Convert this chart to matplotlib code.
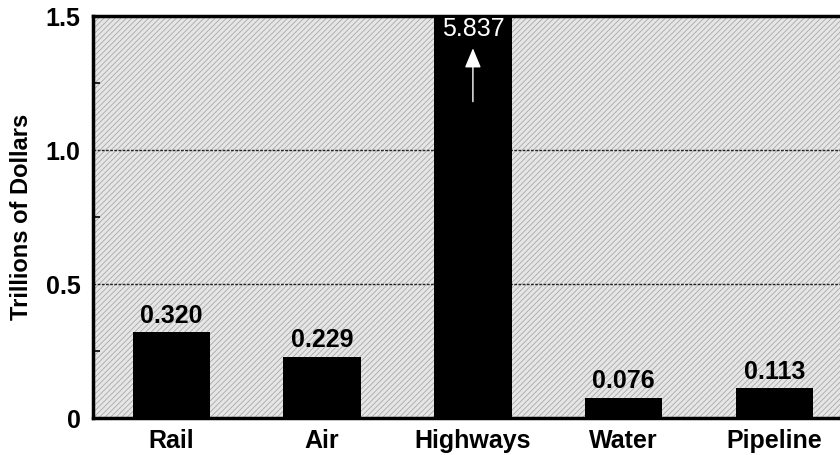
import numpy as np
import matplotlib
matplotlib.use("Agg")
import matplotlib.pyplot as plt
from matplotlib.patches import Rectangle

plt.rcParams['font.family'] = ['Liberation Sans', 'DejaVu Sans']
plt.rcParams['hatch.linewidth'] = 0.6

# data (trillions of dollars)
modes = ['Rail', 'Air', 'Highways', 'Water', 'Pipeline']
values = [0.320, 0.229, 5.837, 0.076, 0.113]
labels = ['0.320', '0.229', '5.837', '0.076', '0.113']
yticks = [0, 0.5, 1.0, 1.5]
yticklabels = ['0', '0.5', '1.0', '1.5']
ymax = 1.5

fig = plt.figure(figsize=(8.4, 4.55), dpi=100)
ax = fig.add_axes([93 / 840, 37 / 455, 747 / 840, 402 / 455])

# stippled background
bg = Rectangle((0, 0), 1, 1, transform=ax.transAxes, facecolor='#e6e6e6',
               edgecolor='#a8a8a8', hatch='//////', linewidth=0, zorder=0)
ax.add_patch(bg)
ax.patch.set_visible(False)

x = np.arange(len(modes))
ax.bar(x, np.minimum(values, ymax), width=0.515, color='black', zorder=3)

for xi, v, lab in zip(x, values, labels):
    if v > ymax:
        ax.text(xi, 1.452, lab, ha='center', va='center', color='white',
                fontsize=18, zorder=5)
        ax.annotate('', xy=(xi, 1.39), xytext=(xi, 1.17),
                    arrowprops=dict(arrowstyle='-|>,head_width=0.5,head_length=1.2',
                                    color='white', lw=1),
                    zorder=5)
    else:
        ax.annotate(lab, (xi, v), xytext=(0, 3), textcoords='offset points',
                    ha='center', va='bottom', fontsize=18, fontweight='bold',
                    zorder=5)

for g in [0.5, 1.0]:
    ax.axhline(g, color='#222222', lw=1, ls=(0, (2, 1)), zorder=2)

ax.set_xlim(-0.52, 4.435)
ax.set_ylim(0, ymax)
ax.set_yticks(yticks)
ax.set_yticklabels(yticklabels, fontsize=18, fontweight='bold')
ax.set_yticks([0.25, 0.75, 1.25], minor=True)
ax.tick_params(axis='y', which='major', direction='in', length=0, pad=9)
ax.tick_params(axis='y', which='minor', direction='in', length=5, width=1.2)
ax.set_xticks(x)
ax.set_xticklabels(modes, fontsize=18, fontweight='bold')
ax.tick_params(axis='x', length=0, pad=8)

ax.set_ylabel('Trillions of Dollars', fontsize=17, fontweight='bold', labelpad=9)

for s in ['left', 'top', 'bottom']:
    ax.spines[s].set_linewidth(2.5)
ax.spines['right'].set_visible(False)

fig.savefig('out.png', dpi=100)
